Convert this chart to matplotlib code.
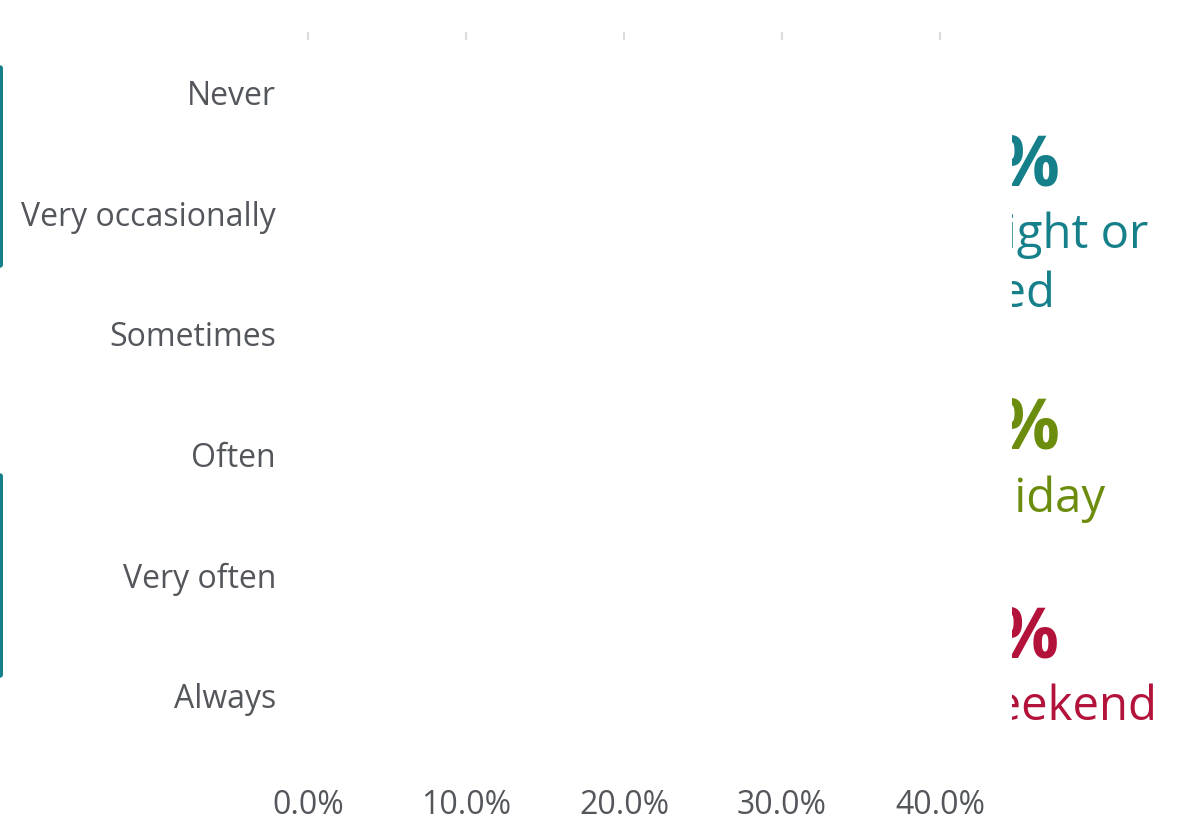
import numpy as np
import matplotlib.pyplot as plt
from matplotlib.patches import FancyBboxPatch
from matplotlib.transforms import Bbox

plt.rcParams['font.family'] = ['Open Sans', 'DejaVu Sans']

# answers, top to bottom
categories = ['Never', 'Very occasionally', 'Sometimes', 'Often', 'Very often', 'Always']
overnight = [0, 0, 0, 0, 0, 0]
holiday = [0, 0, 0, 0, 0, 0]
weekend = [0, 0, 0, 0, 0, 0]
xticks = [0, 10, 20, 30, 40]

teal = '#16808a'
green = '#6b8c0c'
red = '#b3133b'
grey = '#53565b'

W, H = 1178, 821
fig = plt.figure(figsize=(W / 100, H / 100), dpi=100)
ax = fig.add_axes([308 / W, (H - 756) / H, (1019 - 308) / W, (756 - 32) / H])

y = np.arange(len(categories))
h = 0.25
ax.barh(y - h, overnight, height=h, color=teal)
ax.barh(y, holiday, height=h, color=green)
ax.barh(y + h, weekend, height=h, color=red)

ax.set_xlim(0, 45)
ax.set_ylim(len(categories) - 0.5, -0.5)
ax.set_yticks(y)
ax.set_yticklabels(categories, fontsize=23, color=grey)
ax.set_xticks(xticks)
ax.set_xticklabels([f'{v:.1f}%' for v in xticks], fontsize=23, color=grey)
ax.tick_params(axis='y', length=0, pad=23)
ax.tick_params(axis='x', top=True, bottom=False, labeltop=False, labelbottom=True,
               direction='in', length=6, width=1.5, color='#dcdcdc', pad=24)
for s in ax.spines.values():
    s.set_visible(False)

# side panel, partly covered
clip = Bbox.from_extents(1012, 0, W, H)


def side(text, xr, yb, color, size, weight='normal'):
    t = fig.text(xr / W, (H - yb) / H, text, ha='right', va='baseline',
                 color=color, fontsize=size, fontweight=weight)
    t.set_clip_box(clip)
    t.set_clip_on(True)


big = dict(size=50, weight='bold')
side('20%', 1060, 185, teal, **big)
side('overnight or', 1148, 248, teal, 34)
side('extended', 1055, 307, teal, 34)
side('30%', 1060, 448, green, **big)
side('holiday', 1105, 512, green, 34)
side('10%', 1060, 657, red, **big)
side('weekend', 1157, 720, red, 34)

# edges of the neighbouring panel
for y0, y1 in [(65, 268), (473, 678)]:
    fig.patches.append(FancyBboxPatch((-10 / W, (H - y1) / H), 13 / W, (y1 - y0) / H,
                                      boxstyle='round,pad=0,rounding_size=0.004',
                                      transform=fig.transFigure, color=teal, lw=0))

fig.savefig('out.png', dpi=100)
